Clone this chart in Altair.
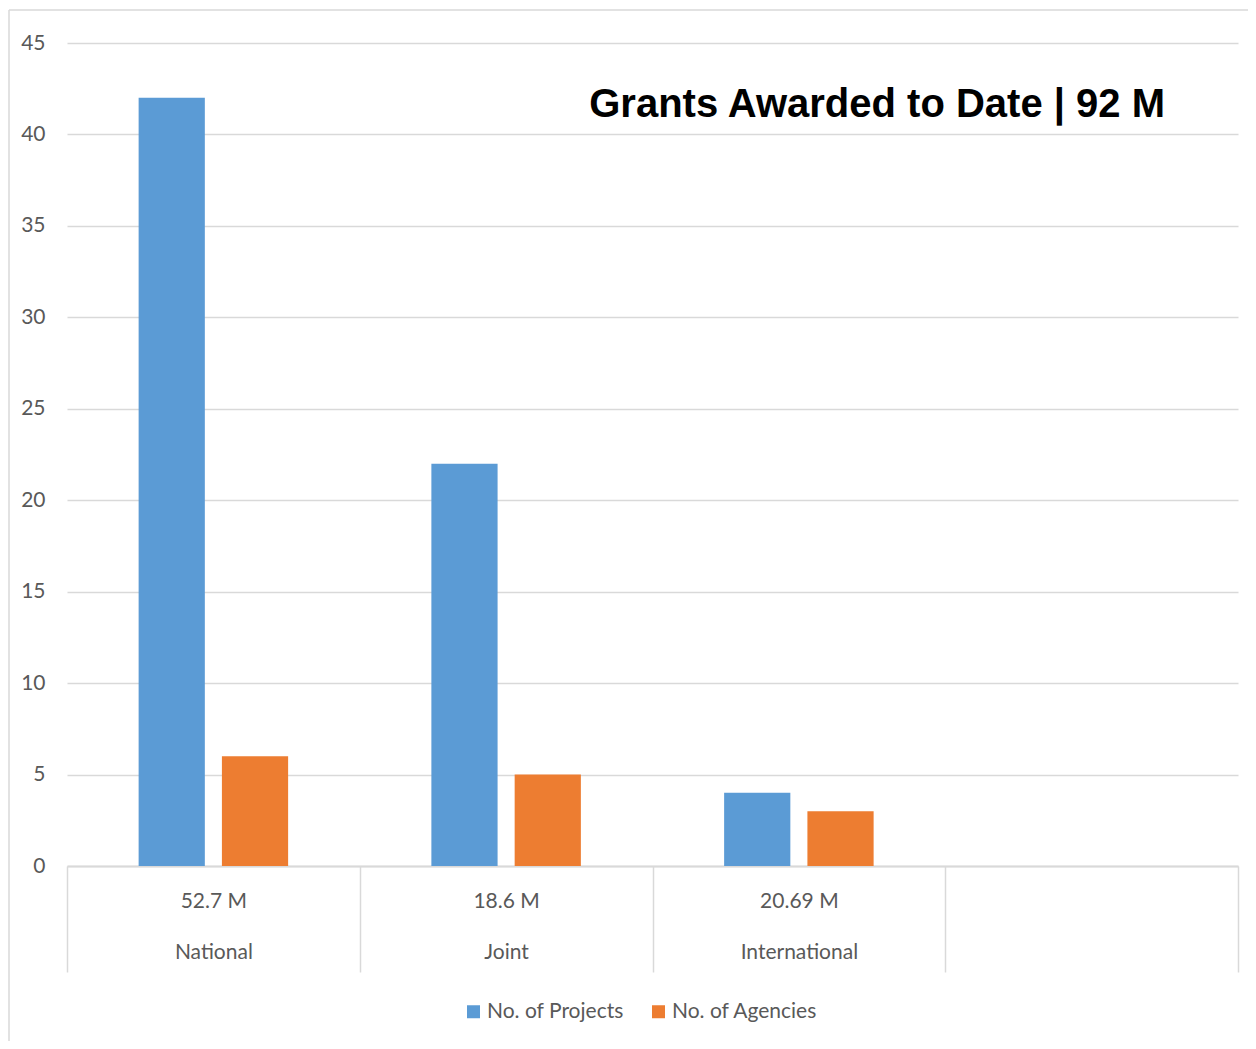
import altair as alt
import pandas as pd

categories = ["National", "Joint", "International"]
amounts = ["52.7 M", "18.6 M", "20.69 M"]
series = ["No. of Projects", "No. of Agencies"]
projects = [42, 22, 4]
agencies = [6, 5, 3]
slots = categories + ["(empty)"]
title_text = "Grants Awarded to Date | 92 M"
y_ticks = list(range(0, 50, 5))
colors = ["#5B9BD5", "#ED7D31"]

rows = []
for c, p, a in zip(categories, projects, agencies):
    rows.append({"category": c, "series": series[0], "value": p})
    rows.append({"category": c, "series": series[1], "value": a})
df = pd.DataFrame(rows)

W, H = 1171, 823
GRID = "#d9d9d9"
TXT = "#595959"
FONT = "Lato"

label_expr = ""
for c, m in zip(categories, amounts):
    label_expr += f"datum.value == '{c}' ? ['{m}', '{c}'] : "
label_expr += "''"

bars = alt.Chart(df).mark_bar().encode(
    x=alt.X(
        "category:N",
        sort=slots,
        scale=alt.Scale(domain=slots, paddingInner=0, paddingOuter=0),
        axis=alt.Axis(
            title=None,
            labelExpr=label_expr,
            tickBand="extent",
            tickSize=106,
            tickColor=GRID,
            tickWidth=1.5,
            domainColor=GRID,
            domainWidth=2,
            labelPadding=-82,
            labelFont=FONT,
            labelFontSize=21,
            labelColor=TXT,
            labelLineHeight=51,
            labelAngle=0,
            grid=False,
        ),
    ),
    xOffset=alt.XOffset(
        "series:N",
        sort=series,
        scale=alt.Scale(domain=series, paddingInner=0.205, paddingOuter=0.86),
    ),
    y=alt.Y(
        "value:Q",
        scale=alt.Scale(domain=[0, 45]),
        axis=alt.Axis(
            values=y_ticks,
            title=None,
            domain=False,
            ticks=False,
            gridColor=GRID,
            gridWidth=1.5,
            labelPadding=22,
            labelFont=FONT,
            labelFontSize=21,
            labelColor=TXT,
        ),
    ),
    color=alt.Color(
        "series:N",
        sort=series,
        scale=alt.Scale(domain=series, range=colors),
        legend=alt.Legend(
            title=None,
            orient="none",
            legendX=396,
            legendY=958,
            direction="horizontal",
            symbolType="square",
            symbolSize=169,
            symbolStrokeWidth=0,
            labelFont=FONT,
            labelFontSize=21,
            labelColor=TXT,
            labelOffset=3,
            columnPadding=24,
        ),
    ),
)

left_border = alt.Chart(pd.DataFrame({"a": [0]})).mark_rule(
    color=GRID, strokeWidth=1.5
).encode(x=alt.value(-58), y=alt.value(-33), y2=alt.value(H + 300))

top_border = alt.Chart(pd.DataFrame({"a": [0]})).mark_rule(
    color=GRID, strokeWidth=1.5
).encode(x=alt.value(-58), x2=alt.value(W + 60), y=alt.value(-33))

title = alt.Chart(pd.DataFrame({"t": [title_text]})).mark_text(
    align="right",
    baseline="alphabetic",
    font="Liberation Sans",
    fontWeight="bold",
    fontSize=40,
    color="black",
).encode(text="t:N", x=alt.value(1098), y=alt.value(74))

chart = alt.layer(left_border, top_border, bars, title).properties(
    width=W,
    height=H,
    autosize=alt.AutoSizeParams(type="none"),
    padding={"left": 59, "top": 35, "right": 10, "bottom": 175},
    background="white",
).configure_view(stroke="transparent")

chart.save("out.html", embed_options={"renderer": "svg", "actions": False})
